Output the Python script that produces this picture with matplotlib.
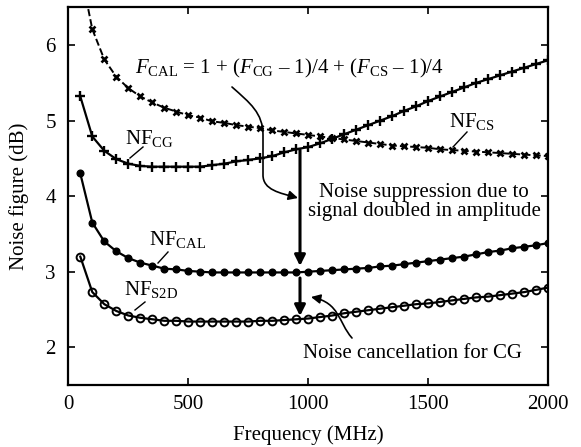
import numpy as np
import matplotlib
matplotlib.use("Agg")
import matplotlib.pyplot as plt
from matplotlib.path import Path
from matplotlib.patches import FancyArrowPatch

plt.rcParams['font.family'] = ['Liberation Serif', 'DejaVu Serif']
plt.rcParams['mathtext.fontset'] = 'custom'
plt.rcParams['mathtext.rm'] = 'Liberation Serif'
plt.rcParams['mathtext.it'] = 'Liberation Serif:italic'
plt.rcParams['mathtext.bf'] = 'Liberation Serif:bold'

freq = list(range(50, 2001, 50))

nf_cs = [7.00, 6.21, 5.81, 5.58, 5.43, 5.32, 5.24, 5.17, 5.12, 5.07,
         5.04, 4.99, 4.97, 4.94, 4.92, 4.90, 4.87, 4.85, 4.83, 4.81,
         4.79, 4.77, 4.75, 4.73, 4.71, 4.69, 4.67, 4.66, 4.65, 4.64,
         4.62, 4.61, 4.60, 4.59, 4.58, 4.57, 4.56, 4.55, 4.54, 4.53]

nf_cg = [5.32, 4.79, 4.60, 4.49, 4.43, 4.40, 4.39, 4.39, 4.39, 4.39,
         4.39, 4.41, 4.43, 4.46, 4.48, 4.50, 4.53, 4.58, 4.62, 4.65,
         4.70, 4.76, 4.82, 4.88, 4.94, 5.00, 5.06, 5.13, 5.19, 5.26,
         5.32, 5.38, 5.44, 5.50, 5.55, 5.60, 5.65, 5.70, 5.75, 5.80]

nf_cal = [4.30, 3.65, 3.40, 3.27, 3.18, 3.12, 3.08, 3.04, 3.03, 3.01,
          3.00, 2.99, 2.99, 2.99, 2.99, 2.99, 2.99, 2.99, 2.99, 3.00,
          3.01, 3.02, 3.03, 3.04, 3.05, 3.07, 3.08, 3.10, 3.12, 3.14,
          3.16, 3.18, 3.20, 3.23, 3.26, 3.28, 3.31, 3.33, 3.35, 3.38]

nf_s2d = [3.20, 2.73, 2.57, 2.48, 2.42, 2.39, 2.37, 2.35, 2.35, 2.34,
          2.34, 2.34, 2.34, 2.34, 2.34, 2.35, 2.35, 2.36, 2.37, 2.38,
          2.40, 2.42, 2.45, 2.47, 2.49, 2.51, 2.53, 2.55, 2.57, 2.58,
          2.60, 2.62, 2.64, 2.66, 2.67, 2.69, 2.71, 2.73, 2.76, 2.79]

xticks = [0, 500, 1000, 1500, 2000]
yticks = [2, 3, 4, 5, 6]

fig = plt.figure(figsize=(5.81, 4.47), dpi=100)
ax = fig.add_axes([68.3/581, 1-385/447, 480/581, 377.7/447])

ax.plot(freq, nf_cs, color='k', ls='--', lw=1.4, marker='x', ms=4.8, mew=1.9)
ax.plot(freq, nf_cg, color='k', ls='-', lw=1.6, marker='+', ms=7, mew=1.7)
ax.plot(freq, nf_cal, color='k', ls='-', lw=1.6, marker='o', ms=4.8, mfc='k', mew=1.0)
ax.plot(freq, nf_s2d, color='k', ls='-', lw=1.6, marker='o', ms=5.6, mfc='none', mew=1.4)

ax.set_xlim(0, 2000)
ax.set_ylim(1.5, 6.5)
ax.set_xticks(xticks)
ax.set_yticks(yticks)
ax.tick_params(direction='in', top=True, right=True, length=5, width=1.2, labelsize=15, pad=7)
ax.tick_params(axis='y', pad=9)
for s in ax.spines.values():
    s.set_linewidth(1.6)
ax.set_xlabel('Frequency (MHz)', fontsize=15, labelpad=8)
ax.set_ylabel('Noise figure (dB)', fontsize=15, labelpad=12)

# pixel -> data helpers for annotation placement
def px(x, y):
    return ((x - 68.3) / 0.24, 6.5 - (y - 7.3) / 75.54)

# formula
fx, fy = px(135, 68)
ax.text(fx, fy, r'$F_{\mathrm{CAL}}$ = 1 + ($F_{\mathrm{CG}}$ – 1)/4 + ($F_{\mathrm{CS}}$ – 1)/4',
        fontsize=15, ha='left', va='center')

# curve labels
def nflabel(x, y, sub):
    xx, yy = px(x, y)
    ax.text(xx, yy, 'NF$_{\\mathrm{%s}}$' % sub, fontsize=15, ha='left', va='center')

nflabel(125, 139, 'CG')
nflabel(449, 122, 'CS')
nflabel(149, 240, 'CAL')
nflabel(124, 290, 'S2D')

def leader(x0, y0, x1, y1):
    a = px(x0, y0); b = px(x1, y1)
    ax.plot([a[0], b[0]], [a[1], b[1]], color='k', lw=1.0)

leader(143, 147, 130, 158)
leader(467, 132, 453, 147)
leader(168, 252, 158, 263)
leader(145, 302, 135, 310)

# curved arrow from formula
verts = [px(232, 87), px(250, 103), px(263, 113), px(263, 135),
         px(263, 175),
         px(263, 190), px(280, 193), px(298, 198)]
codes = [Path.MOVETO, Path.CURVE4, Path.CURVE4, Path.CURVE4,
         Path.LINETO,
         Path.CURVE4, Path.CURVE4, Path.CURVE4]
ax.add_patch(FancyArrowPatch(path=Path(verts, codes), arrowstyle='-|>',
                             mutation_scale=14, color='k', lw=1.2))

# vertical arrows
ax.annotate('', xy=px(300, 266), xytext=px(300, 150),
            arrowprops=dict(arrowstyle='-|>', color='k', lw=2.2, mutation_scale=16, shrinkA=0, shrinkB=0))
ax.annotate('', xy=px(300, 316), xytext=px(300, 278),
            arrowprops=dict(arrowstyle='-|>', color='k', lw=2.2, mutation_scale=16, shrinkA=0, shrinkB=0))

# curved arrow for noise cancellation
verts2 = [px(352, 338), px(338, 322), px(340, 303), px(311, 297)]
codes2 = [Path.MOVETO, Path.CURVE4, Path.CURVE4, Path.CURVE4]
ax.add_patch(FancyArrowPatch(path=Path(verts2, codes2), arrowstyle='-|>',
                             mutation_scale=14, color='k', lw=1.2))

tx, ty = px(424, 202)
ax.text(tx, ty, 'Noise suppression due to\nsignal doubled in amplitude', fontsize=15,
        ha='center', va='center', linespacing=1.0)
tx, ty = px(412, 353)
ax.text(tx, ty, 'Noise cancellation for CG', fontsize=15, ha='center', va='center')

fig.savefig('out.png', dpi=100)
